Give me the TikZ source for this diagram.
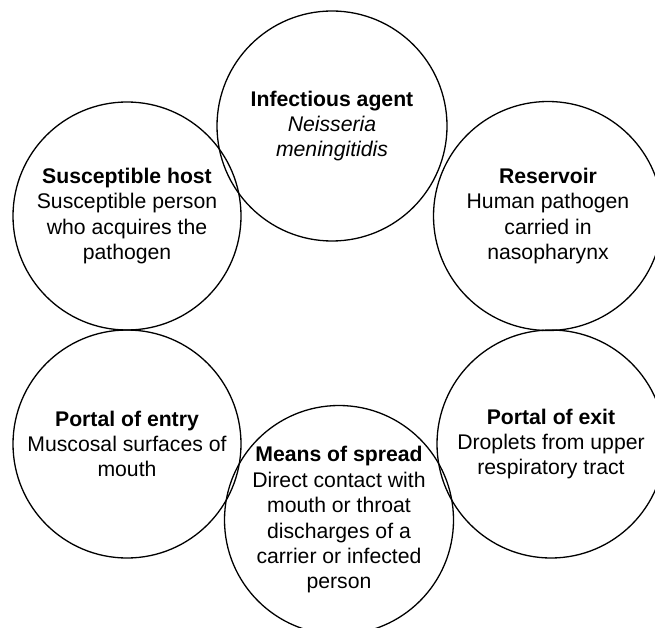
\documentclass[tikz,border=0pt]{standalone}
\usepackage{fontspec}
\setmainfont{Liberation Sans}
\begin{document}
\begin{tikzpicture}[x=1pt,y=-1pt,
  stage/.style={circle,draw=black,line width=1.3pt,minimum size=#1,inner sep=0pt,
    align=center,font=\fontsize{21.2}{25.4}\selectfont},
]
\useasboundingbox (0,0) rectangle (655,628);
\clip (0,0) rectangle (655,628);
% chain of infection, one circle per link
\node[stage=230pt] (agent) at (332,126)
  {\textbf{Infectious agent}\\\textit{Neisseria}\\\textit{meningitidis}};
\node[stage=229pt] (reservoir) at (548,216)
  {\textbf{Reservoir}\\Human pathogen\\carried in\\nasopharynx};
\node[stage=228pt] (exit) at (551,444)
  {\textbf{Portal of exit}\\Droplets from upper\\respiratory tract};
\node[stage=229pt] (spread) at (339,520)
  {\textbf{Means of spread}\\Direct contact with\\mouth or throat\\discharges of a\\carrier or infected\\person};
\node[stage=228pt] (entry) at (127,444)
  {\textbf{Portal of entry}\\Muscosal surfaces of\\mouth};
\node[stage=228pt] (host) at (127,216)
  {\textbf{Susceptible host}\\Susceptible person\\who acquires the\\pathogen};
\end{tikzpicture}
\end{document}
